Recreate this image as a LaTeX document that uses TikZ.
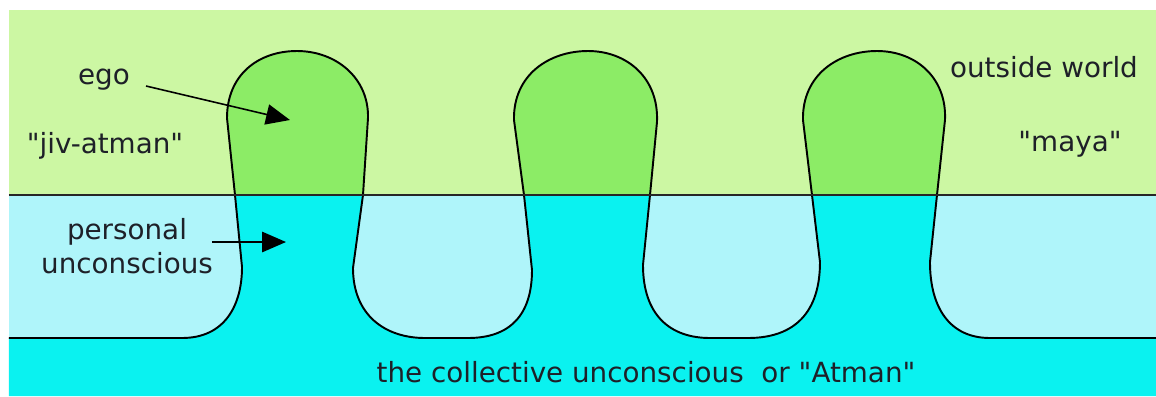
\documentclass[tikz,border=0pt]{standalone}
\usepackage{fontspec}
\setmainfont{DejaVu Sans}
\usetikzlibrary{arrows.meta}
\definecolor{lgreen}{RGB}{204,247,163}
\definecolor{hgreen}{RGB}{140,236,102}
\definecolor{lblue}{RGB}{175,245,250}
\definecolor{cyanb}{RGB}{10,242,240}
\definecolor{txt}{RGB}{30,32,40}
\newcommand{\qq}{\textquotedbl}
\tikzset{
  lbl/.style={inner sep=0pt, text=txt, font=\fontsize{7.9}{9.6}\selectfont, align=center},
  outline/.style={line width=0.55pt, black},
  ptr/.style={line width=0.45pt, black, -{Triangle[length=6.8pt,width=5.8pt]}},
}
\begin{document}
\begin{tikzpicture}[x=0.01cm,y=-0.01cm]
\useasboundingbox (0,0) rectangle (1156,396);
\fill[white] (0,0) rectangle (1156,396);
% background bands
\fill[lgreen] (9,10) rectangle (1156,195);
\fill[lblue] (9,195) rectangle (1156,338);
\fill[cyanb] (9,338) rectangle (1156,396);
% the shape of heads, necks and the collective strip
\def\shapepath{(9,338) -- (182,338)
  .. controls (225,338) and (242,305) .. (242,267) -- (235,195) -- (227,118)
  .. controls (227,75) and (258,51) .. (297,51)
  .. controls (336,51) and (369,78) .. (368,118) -- (363,195) -- (353,268)
  .. controls (353,315) and (385,338) .. (425,338) -- (468,338)
  .. controls (510,338) and (532,315) .. (532,270) -- (524,195) -- (514,120)
  .. controls (513,75) and (549,51) .. (588,51)
  .. controls (627,51) and (659,78) .. (657,122) -- (650,195) -- (643,265)
  .. controls (643,315) and (670,338) .. (710,338) -- (748,338)
  .. controls (795,338) and (820,312) .. (820,262) -- (812,195) -- (803,120)
  .. controls (802,75) and (838,51) .. (877,51)
  .. controls (916,51) and (947,78) .. (945,120) -- (937,195) -- (930,262)
  .. controls (930,308) and (950,338) .. (990,338) -- (1156,338)}
\begin{scope}
  \clip (9,10) rectangle (1156,195);
  \fill[hgreen] \shapepath -- (1156,396) -- (9,396) -- cycle;
\end{scope}
\begin{scope}
  \clip (9,195) rectangle (1156,396);
  \fill[cyanb] \shapepath -- (1156,396) -- (9,396) -- cycle;
\end{scope}
\draw[outline] \shapepath;
\draw[line width=0.6pt, black!85] (9,195) -- (1156,195);
% labels
\node[lbl] (ego) at (104,80) {ego};
\node[lbl] (jiv) at (105,146) {\qq jiv-atman\qq};
\node[lbl] (pers) at (127,246) {personal\\unconscious};
\node[lbl] (world) at (1044,67) {outside world};
\node[lbl] (maya) at (1070,144) {\qq maya\qq};
\node[lbl] (coll) at (646,372) {the collective unconscious\ \ or \qq Atman\qq};
% pointers
\coordinate (egostart) at (146,86);
\coordinate (egotip) at (290,120);
\coordinate (persstart) at (212,242);
\coordinate (perstip) at (286,242);
\draw[ptr] (egostart) -- (egotip);
\draw[ptr] (persstart) -- (perstip);
\end{tikzpicture}
\end{document}
